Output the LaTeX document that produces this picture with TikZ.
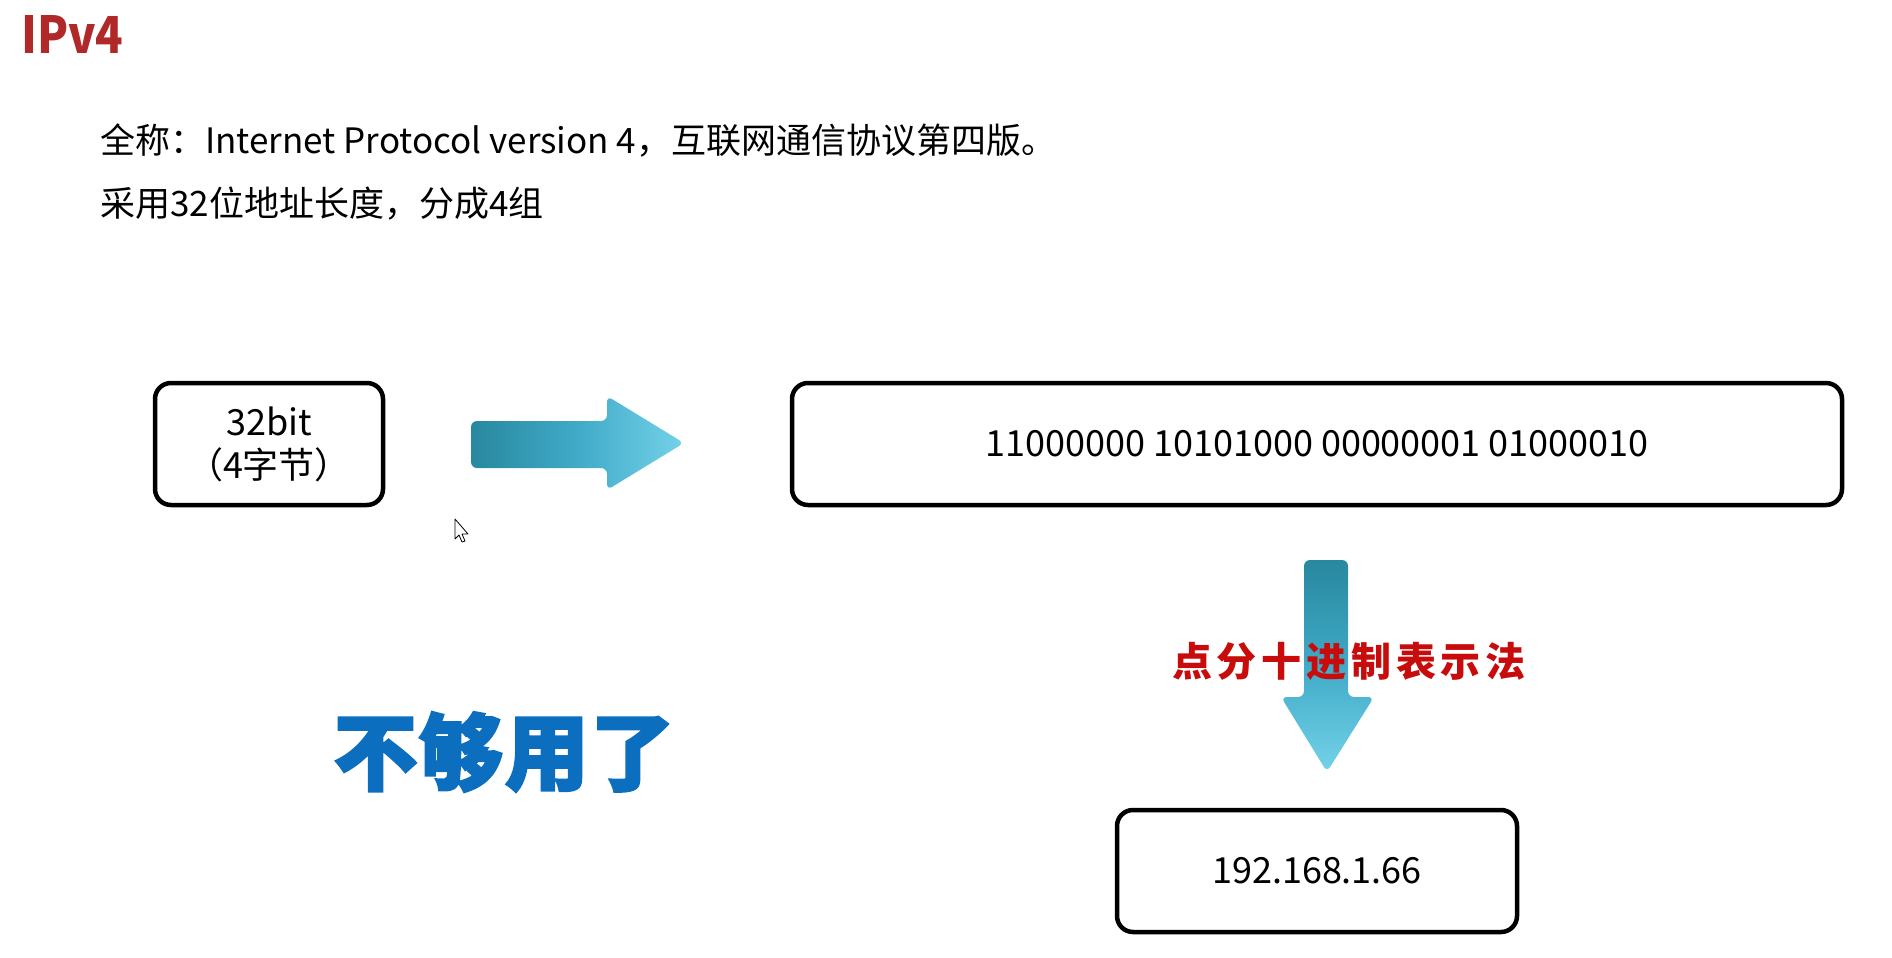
\documentclass[tikz,border=0pt]{standalone}
\usepackage{fontspec}
\setmainfont{Noto Sans CJK SC}
\usepackage{tikz}
\usetikzlibrary{arrows.meta,positioning,calc}

\definecolor{titlered}{RGB}{176,40,40}
\definecolor{notered}{RGB}{200,12,12}
\definecolor{shoutblue}{RGB}{12,110,190}
\definecolor{arrdark}{RGB}{40,136,158}
\definecolor{arrmid}{RGB}{64,170,200}
\definecolor{arrlight}{RGB}{116,210,232}

\begin{document}
\begin{tikzpicture}[
  x=1pt, y=-1pt,
  box/.style={rectangle, draw, line width=4.5pt, rounded corners=16pt, align=center, inner sep=0pt, font=\fontsize{36}{43}\selectfont},
  line/.style={anchor=base west, inner sep=0pt, font=\fontsize{35}{40}\selectfont},
  blockarrow/.style={rounded corners=6pt},
]
\useasboundingbox (0,0) rectangle (1892,958);

% heading and description
\node[line, text=titlered, font=\fontsize{51}{56}\selectfont\bfseries] (title) at (21,54) {\scalebox{0.89}[1]{IPv4}};
\node[line] (fullname) at (100,153) {全称：Internet Protocol version 4，互联网通信协议第四版。};
\node[line] (length) at (100,216) {采用32位地址长度，分成4组};

% boxes
\node[box, minimum width=228, minimum height=122] (bits) at (269,444) {32bit\\（4字节）};
\node[box, minimum width=1050, minimum height=122] (binary) at (1317,444) {11000000 10101000 00000001 01000010};
\node[box, minimum width=400, minimum height=122] (dotted) at (1317,871) {192.168.1.66};

% block arrows
\shade[blockarrow, left color=arrdark, right color=arrlight, middle color=arrmid]
  (471,421) -- (607,421) -- (607,396) -- (684,443) -- (607,490) -- (607,468) -- (471,468) -- cycle;
\shade[blockarrow, top color=arrdark, bottom color=arrlight, middle color=arrmid]
  (1304,560) -- (1348,560) -- (1348,697) -- (1374,697) -- (1327,772) -- (1281,697) -- (1304,697) -- cycle;

% labels
\node[text=notered, font=\fontsize{40}{44}\selectfont\bfseries\addfontfeature{LetterSpace=12}] (method) at (1349,661) {点分十进制表示法};
\node[text=shoutblue, font=\fontsize{84}{90}\selectfont\bfseries\addfontfeature{FakeBold=2.5,LetterSpace=2}] (shortage) at (504,752) {不够用了};

% mouse pointer
\draw[line width=0.8pt, fill=white, line join=round]
  (455,519) -- (455,539) -- (459,535) -- (462,542) -- (465,541) -- (462,534) -- (468,534) -- cycle;
\end{tikzpicture}
\end{document}
